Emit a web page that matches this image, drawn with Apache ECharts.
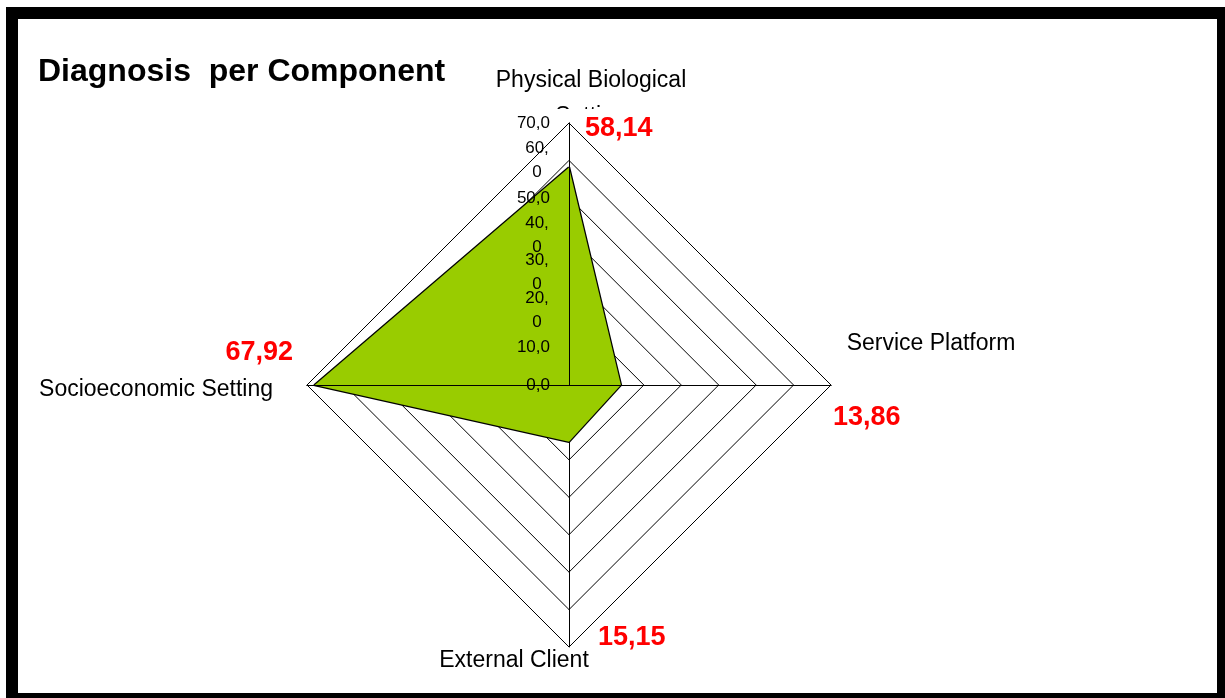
<!DOCTYPE html>
<html>
<head>
<meta charset="utf-8">
<title>Diagnosis per Component</title>
<script src="https://cdn.jsdelivr.net/npm/echarts@6/dist/echarts.min.js"></script>
<style>
  html, body { margin: 0; padding: 0; background: #fff; }
  #chart { width: 1225px; height: 698px; }
</style>
</head>
<body>
<div id="chart"></div>
<script>
// indicators in ECharts order (counterclockwise from the top)
const components = ['Physical Biological Setting', 'Socioeconomic Setting', 'External Client', 'Service Platform']
const scores = [58.14, 67.92, 15.15, 13.86]
const axisMax = 70
const tickLabels = ['0,0', '10,0', '20,\n0', '30,\n0', '40,\n0', '50,0', '60,\n0', '70,0']

const font = 'Arial, "Liberation Sans", sans-serif'
const cx = 569
const cy = 385
const radius = 262

function fmt(v) {
  return v.toFixed(2).replace('.', ',')
}

// vertices of the outer ring, same order as components
const vertex = [
  [cx, cy - radius],
  [cx - radius, cy],
  [cx, cy + radius],
  [cx + radius, cy]
]

const chart = echarts.init(document.getElementById('chart'))

const graphics = [
  // frame
  {
    type: 'rect',
    shape: { x: 12, y: 13, width: 1211, height: 686 },
    style: { fill: 'none', stroke: '#000', lineWidth: 12 },
    z: 100
  },
  {
    type: 'text',
    left: 38,
    top: 56,
    style: { text: 'Diagnosis  per Component', font: 'bold 32px ' + font, fill: '#000' }
  },
  // axis names
  {
    type: 'text', x: vertex[0][0] + 22, y: vertex[0][1] - 42,
    style: { text: 'Physical Biological', font: '23px ' + font, fill: '#000', align: 'center', verticalAlign: 'middle' }
  },
  {
    type: 'text', x: vertex[0][0] + 22, y: vertex[0][1] - 6, z: 1,
    style: { text: 'Setting', font: '23px ' + font, fill: '#000', align: 'center', verticalAlign: 'middle' }
  },
  // the second line is cut off in the original
  {
    type: 'rect', shape: { x: 552, y: vertex[0][1] - 14, width: 90, height: 30 },
    style: { fill: '#fff' }, z: 1.5
  },
  {
    type: 'text', x: vertex[1][0] - 34, y: vertex[1][1] + 5,
    style: { text: components[1], font: '23px ' + font, fill: '#000', align: 'right', verticalAlign: 'middle' }
  },
  {
    type: 'text', x: vertex[2][0] - 55, y: vertex[2][1] + 14,
    style: { text: components[2], font: '23px ' + font, fill: '#000', align: 'center', verticalAlign: 'middle' }
  },
  {
    type: 'text', x: vertex[3][0] + 100, y: vertex[3][1] - 41,
    style: { text: components[3], font: '23px ' + font, fill: '#000', align: 'center', verticalAlign: 'middle' }
  }
]

// red value labels next to the outer ring
const labelPos = [
  [vertex[0][0] + 16, vertex[0][1] + 6, 'left'],
  [vertex[1][0] - 14, vertex[1][1] - 32, 'right'],
  [vertex[2][0] + 29, vertex[2][1] - 9, 'left'],
  [vertex[3][0] + 2, vertex[3][1] + 33, 'left']
]
scores.forEach((v, i) => {
  graphics.push({
    type: 'text',
    x: labelPos[i][0],
    y: labelPos[i][1],
    z: 6,
    style: { text: fmt(v), font: 'bold 27px ' + font, fill: '#ff0000', align: labelPos[i][2], verticalAlign: 'middle' }
  })
})

chart.setOption({
  animation: false,
  backgroundColor: '#fff',
  radar: {
    z: 2,
    center: [cx, cy],
    radius: radius,
    shape: 'polygon',
    splitNumber: 7,
    startAngle: 90,
    indicator: components.map(name => ({ name: name, max: axisMax, min: 0 })),
    axisName: { show: false },
    axisLine: { lineStyle: { color: '#000', width: 1 } },
    splitLine: { lineStyle: { color: '#000', width: 1 } },
    splitArea: { show: false }
  },
  // hidden cartesian grids over the radar: horizontal axis line, and the value scale
  grid: [
    { left: cx - radius, top: cy - radius, width: radius * 2, height: radius },
    { left: cx, top: cy - radius, width: 10, height: radius }
  ],
  xAxis: [
    {
      gridIndex: 0,
      type: 'value',
      min: -axisMax,
      max: axisMax,
      z: 5,
      axisLine: { show: true, lineStyle: { color: '#000', width: 1 } },
      axisTick: { show: false },
      axisLabel: { show: false },
      splitLine: { show: false }
    },
    { gridIndex: 1, type: 'value', show: false }
  ],
  yAxis: [
    { gridIndex: 0, type: 'value', min: 0, max: axisMax, show: false },
    {
      gridIndex: 1,
      type: 'value',
      min: 0,
      max: axisMax,
      interval: 10,
      z: 5,
      axisLine: { show: true, lineStyle: { color: '#000', width: 1 } },
      axisTick: { show: false },
      splitLine: { show: false },
      axisLabel: {
        margin: 19,
        color: '#000',
        fontFamily: font,
        fontSize: 17,
        lineHeight: 24,
        formatter: function (value) {
          const t = tickLabels[Math.round(value / 10)]
          if (t.indexOf('\n') >= 0) {
            return t.split('\n').map(s => '{c|' + s + '}').join('\n')
          }
          return t
        },
        rich: {
          c: { width: 26, align: 'center', fontSize: 17, fontFamily: font, color: '#000', lineHeight: 24 }
        }
      }
    }
  ],
  series: [
    {
      type: 'radar',
      z: 3,
      symbol: 'none',
      lineStyle: { color: '#000', width: 2.5 },
      areaStyle: { color: '#99cc00', opacity: 1 },
      data: [{ value: scores, name: 'Diagnosis' }]
    }
  ],
  graphic: graphics
})
</script>
</body>
</html>
